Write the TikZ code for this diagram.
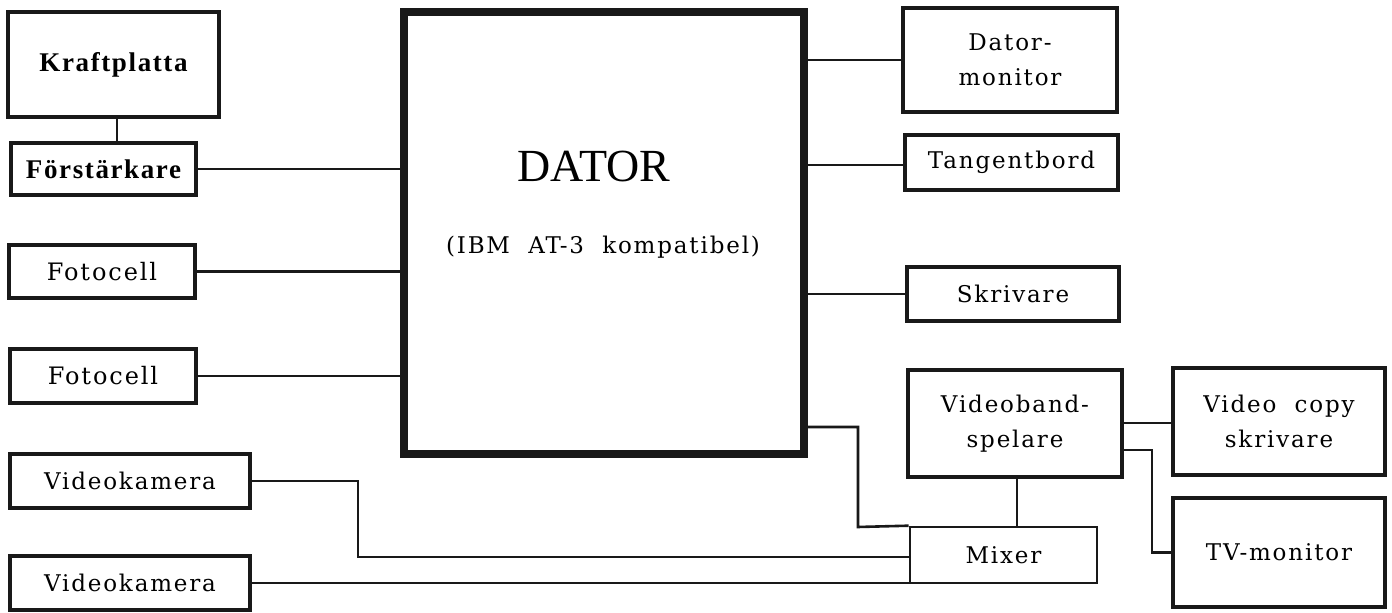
\documentclass[tikz,border=0pt]{standalone}
\usepackage{fontspec}
\setmainfont{Liberation Serif}
\newfontfamily\lblfont[LetterSpace=8]{DejaVu Serif}
\newfontfamily\boldlblfont[LetterSpace=6]{Liberation Serif}
\begin{document}
\begin{tikzpicture}[x=0.5pt,y=-0.5pt,
  box/.style={draw=black!90, line width=1.9pt, fill=white, inner sep=0pt, align=center, font=\fontsize{11.5}{17.5}\lblfont},
  boldbox/.style={box, font=\fontsize{13.5}{18}\boldlblfont\bfseries},
  conn/.style={draw=black!90, line width=1.3pt},
  thin/.style={draw=black!90, line width=0.8pt}]
\useasboundingbox (0,0) rectangle (1392,613);
\fill[white] (0,0) rectangle (1392,613);

% left column
\node[boldbox, minimum width=105.5pt, minimum height=52.5pt] (kraft) at (113.5,64.5) {Kraftplatta};
\node[boldbox, minimum width=92.5pt, minimum height=26pt, font=\fontsize{13.5}{15}\boldlblfont\bfseries] (forst) at (103.5,169) {Förstärkare};
\node[box, minimum width=93pt, minimum height=26.5pt, font=\fontsize{12}{15}\lblfont] (foto1) at (102,271.5) {Fotocell};
\node[box, minimum width=93pt, minimum height=27pt, font=\fontsize{12}{15}\lblfont] (foto2) at (103,376) {Fotocell};
\node[box, minimum width=120pt, minimum height=27pt] (kam1) at (130,481) {Videokamera};
\node[box, minimum width=120pt, minimum height=27pt] (kam2) at (130,583) {Videokamera};

% computer
\node[draw=black!90, line width=4pt, fill=white, minimum width=200pt, minimum height=221pt, inner sep=0pt] (dator) at (604,233) {};
\node[font=\fontsize{23}{26}\selectfont] (datorlbl) at (594,167) {DATOR};
\node[font=\fontsize{11.5}{15}\lblfont] (ibm) at (603,247) {(IBM\ \ AT-3\ \ kompatibel)};

% right column
\node[box, minimum width=107pt, minimum height=52pt] (dmon) at (1010,60) {Dator-\\monitor};
\node[box, minimum width=106.5pt, minimum height=27.5pt] (tang) at (1011.5,162.5) {Tangentbord};
\node[box, minimum width=106pt, minimum height=27pt] (skriv) at (1013,294) {Skrivare};
\node[box, minimum width=107pt, minimum height=53.5pt] (vbs) at (1015,423.5) {Videoband-\\spelare};
\node[box, minimum width=106pt, minimum height=53.5pt] (vcopy) at (1279,421.5) {Video\ \ copy\\skrivare};
\node[box, minimum width=106pt, minimum height=54.5pt] (tvmon) at (1279,552.5) {TV-monitor};
\node[box, line width=1.3pt, minimum width=93.5pt, minimum height=28pt] (mixer) at (1003.5,555) {Mixer};

% connectors
\draw[thin] (kraft.south -| 117,0) -- (forst.north -| 117,0);
\draw[conn] (forst.east) -- (forst.east -| dator.west);
\draw[conn] (foto1.east) -- (foto1.east -| dator.west);
\draw[conn] (foto2.east) -- (foto2.east -| dator.west);
\draw[conn] (dator.east |- dmon.west) -- (dmon.west);
\draw[conn] (dator.east |- 0,165) -- (tang.west |- 0,165);
\draw[conn] (dator.east |- skriv.west) -- (skriv.west);
\coordinate (c1) at (858,527);
\draw[conn] (dator.east |- 0,427) -| (c1) -- (mixer.north west);
\draw[conn] (vbs.south -| 1017,0) -- (mixer.north -| 1017,0);
\draw[conn] (vbs.east |- 0,423) -- (vcopy.west |- 0,423);
\coordinate (c2) at (1152,450);
\draw[conn] (vbs.east |- c2) -- (c2) |- (tvmon.west);
\coordinate (c3) at (358,481);
\draw[conn] (kam1.east) -- (c3) |- (mixer.west |- 0,557);
\draw[conn] (kam2.east) -- (kam2.east -| mixer.west);
\end{tikzpicture}
\end{document}
